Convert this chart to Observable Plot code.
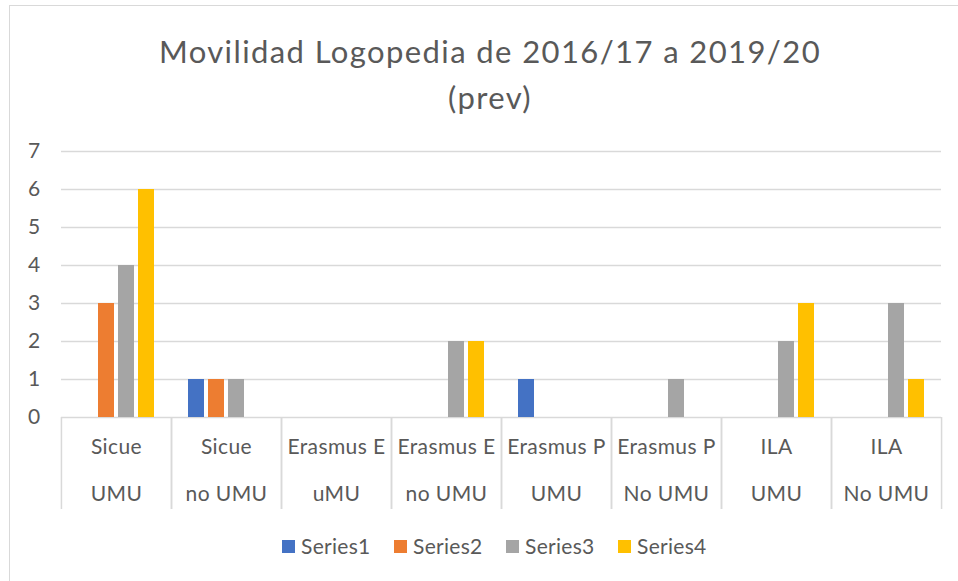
<!DOCTYPE html>
<html><head><meta charset="utf-8">
<script src="https://cdn.jsdelivr.net/npm/d3@7"></script>
<script src="https://cdn.jsdelivr.net/npm/@observablehq/plot@0.6"></script>
<style>
html,body{margin:0;padding:0;background:#fff;overflow:hidden;width:958px;height:581px}
body{font-family:Lato,"Open Sans",sans-serif;color:#595959;position:relative}
#border{position:absolute;left:9px;top:5px;width:1000px;height:1000px;border:1px solid #d9d9d9;box-sizing:border-box}
#title{position:absolute;left:20px;width:940px;top:28px;text-align:center;font-size:31px;line-height:46px;letter-spacing:1.4px}
#chart{position:absolute;left:0;top:130px}
#chart text{letter-spacing:0.4px}
#legend{position:absolute;left:282px;top:539px;display:flex;font-size:21px;line-height:14px;letter-spacing:0.3px}
.item{display:flex;align-items:center;width:112px}
.sw{width:13px;height:13px;margin-right:6px;flex:none}
</style>
</head><body>
<div id="border"></div>
<div id="title">Movilidad Logopedia de 2016/17 a 2019/20<br>(prev)</div>
<div id="chart"></div>
<div id="legend"></div>
<script>
const catTop = ["Sicue","Sicue","Erasmus E","Erasmus E","Erasmus P","Erasmus P","ILA","ILA"];
const catBottom = ["UMU","no UMU","uMU","no UMU","UMU","No UMU","UMU","No UMU"];
const seriesNames = ["Series1","Series2","Series3","Series4"];
const seriesColors = ["#4472C4","#ED7D31","#A5A5A5","#FFC000"];
const series1 = [0,1,0,0,1,0,0,0];
const series2 = [3,1,0,0,0,0,0,0];
const series3 = [4,1,0,2,0,1,2,3];
const series4 = [6,0,0,2,0,0,3,1];
const yTicks = [0,1,2,3,4,5,6,7];

const categories = catTop.map((t,i) => t + "\n" + catBottom[i]);
const seriesValues = [series1, series2, series3, series4];
const data = [];
categories.forEach((c,i) => seriesNames.forEach((s,j) => data.push({category:c, series:s, value:seriesValues[j][i]})));

const width = 958, height = 400, marginLeft = 60, marginRight = 17, marginTop = 21, marginBottom = 113;
const step = (width - marginLeft - marginRight) / categories.length;
const textColor = "#595959", gridColor = "#d9d9d9";

const chart = Plot.plot({
  width, height, marginLeft, marginRight, marginTop, marginBottom,
  style: {fontFamily: "Lato, 'Open Sans', sans-serif", fontSize: "21px", color: textColor, background: "transparent"},
  fx: {domain: categories, padding: 0},
  x: {domain: seriesNames, paddingInner: 0.2, paddingOuter: 0.8, axis: null},
  y: {domain: [0,7]},
  color: {domain: seriesNames, range: seriesColors},
  marks: [
    Plot.ruleY(yTicks, {stroke: gridColor, strokeWidth: 1.5}),
    Plot.barY(data, {fx: "category", x: "series", y: "value", fill: "series"}),
    Plot.axisY(yTicks, {tickSize: 0, tickPadding: 21, fontSize: 21, fill: textColor, label: null}),
    Plot.axisFx({anchor: "bottom", tickSize: 0, tickPadding: 3, lineHeight: 2.24, fontSize: 21, fill: textColor, label: null}),
    Plot.axisFx({anchor: "bottom", tickSize: 92, fill: "none", stroke: gridColor, strokeWidth: 1.5, dx: -step/2, label: null}),
    Plot.axisFx([categories[categories.length-1]], {anchor: "bottom", tickSize: 92, fill: "none", stroke: gridColor, strokeWidth: 1.5, dx: step/2, label: null})
  ]
});
document.getElementById("chart").appendChild(chart);

const legend = document.getElementById("legend");
seriesNames.forEach((s,i) => {
  const item = document.createElement("div");
  item.className = "item";
  const sw = document.createElement("span");
  sw.className = "sw";
  sw.style.background = seriesColors[i];
  const t = document.createElement("span");
  t.textContent = s;
  item.appendChild(sw); item.appendChild(t);
  legend.appendChild(item);
});
</script>
</body></html>
